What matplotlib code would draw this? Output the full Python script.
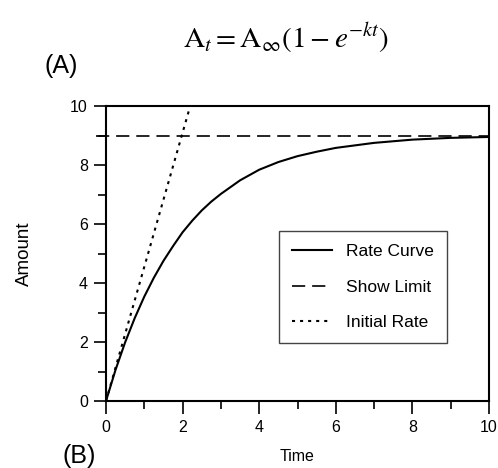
import numpy as np
import matplotlib
matplotlib.use("Agg")
import matplotlib.pyplot as plt

plt.rcParams["font.family"] = ["Liberation Sans", "DejaVu Sans"]
plt.rcParams["lines.scale_dashes"] = False

# values
time = [0, 0.25, 0.5, 0.75, 1.0, 1.25, 1.5, 1.75, 2.0, 2.25, 2.5, 2.75, 3.0,
        3.5, 4.0, 4.5, 5.0, 5.5, 6.0, 7.0, 8.0, 9.0, 10.0]
amount = [0, 1.06, 1.99, 2.81, 3.54, 4.18, 4.75, 5.25, 5.72, 6.11, 6.46, 6.76, 7.02,
          7.48, 7.84, 8.1, 8.3, 8.45, 8.58, 8.75, 8.86, 8.92, 8.95]
limit_t = [-0.25, 10]
limit_y = [9, 9]
init_t = [0, 2.17]
init_y = [0, 9.87]

fig = plt.figure(figsize=(4.98, 4.68), dpi=100)
ax = fig.add_axes([106 / 498, 1 - 401 / 468, 383 / 498, 295 / 468])

ax.plot(time, amount, color="black", lw=1.5, label="Rate Curve")
ax.plot(limit_t, limit_y, color="black", lw=1.2, linestyle=(0, (9.5, 5)),
        clip_on=False, label="Show Limit")
ax.plot(init_t, init_y, color="black", lw=1.5, linestyle=(0, (2.2, 3.6)), label="Initial Rate")

ax.set_xlim(0, 10)
ax.set_ylim(0, 10)
ax.set_xticks(np.arange(0, 11, 2))
ax.set_yticks(np.arange(0, 11, 2))
ax.set_xticks(np.arange(1, 10, 2), minor=True)
ax.set_yticks(np.arange(1, 10, 2), minor=True)
ax.tick_params(which="major", direction="out", length=9, width=1.2, labelsize=11.5, pad=4)
ax.tick_params(axis="x", which="major", pad=5)
ax.tick_params(which="minor", direction="out", length=6, width=1.2)
for s in ax.spines.values():
    s.set_linewidth(1.5)

ax.set_xlabel("Time", fontsize=11.5, labelpad=10)
ax.set_ylabel("Amount", fontsize=13.5, labelpad=27)

leg = ax.legend(loc="upper right", bbox_to_anchor=((447 - 106) / 383, (401 - 231) / 295),
                fontsize=12.5, frameon=True, fancybox=False, framealpha=1, edgecolor="#444444",
                handlelength=2.3, handletextpad=0.8, labelspacing=1.18,
                borderpad=0.75, borderaxespad=0)
leg.get_frame().set_linewidth(1.0)

fig.text(286 / 498, 0.918, r"$\mathrm{A}_t = \mathrm{A}_\infty(1 - e^{-kt})$",
         fontsize=21, ha="center", va="center", math_fontfamily="stix")
fig.text(61 / 498, 1 - 66 / 468, "(A)", fontsize=18, ha="center", va="center")
fig.text(79 / 498, 1 - 456 / 468, "(B)", fontsize=18, ha="center", va="center")

fig.savefig("out.png", dpi=100)
